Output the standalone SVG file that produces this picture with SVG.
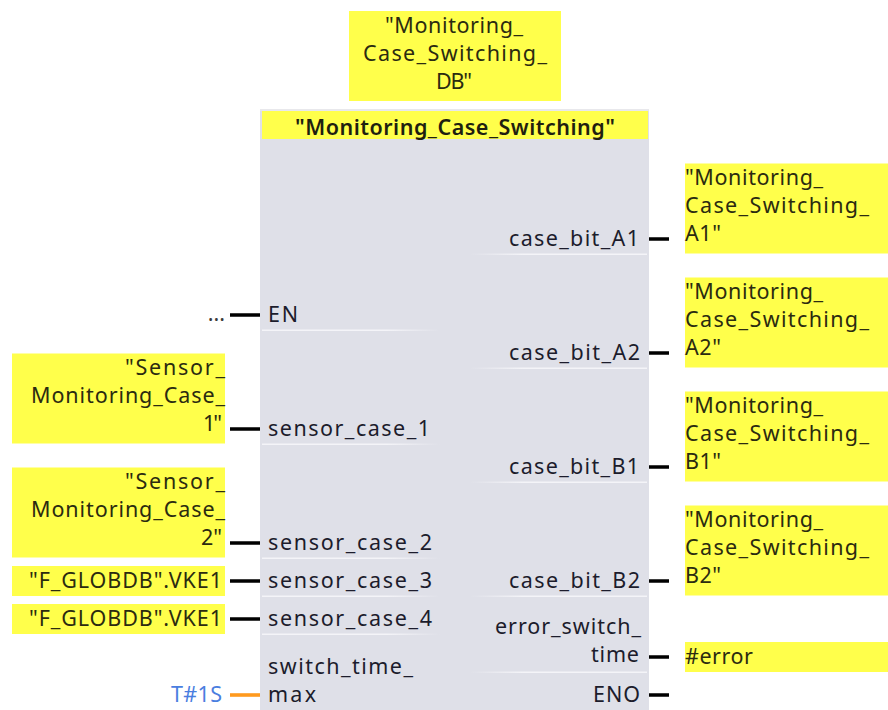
<svg xmlns="http://www.w3.org/2000/svg" width="888" height="710" viewBox="0 0 888 710">
<style>
text{font-family:"Noto Sans","DejaVu Sans",sans-serif;font-size:21.5px;fill:#1c1c2c}
.y{fill:#ffff4b}
.o{fill:#2b2b10}
.r{text-anchor:end}
.w{stroke:#000;stroke-width:3.6;fill:none}
</style>
<defs>
<linearGradient id="fl" x1="0" x2="1" y1="0" y2="0"><stop offset="0" stop-color="#f4f4f8"/><stop offset="0.7" stop-color="#f4f4f8"/><stop offset="1" stop-color="#dfe0e8"/></linearGradient>
<linearGradient id="fr" x1="0" x2="1" y1="0" y2="0"><stop offset="0" stop-color="#dfe0e8"/><stop offset="0.3" stop-color="#f4f4f8"/><stop offset="1" stop-color="#f4f4f8"/></linearGradient>
</defs>
<rect width="888" height="710" fill="#fff"/>
<g id="instance-db"><rect class="y" x="349" y="11" width="212" height="90"/>
<text class="o" x="385" y="33" textLength="138">"Monitoring_</text><text class="o" x="363" y="61" textLength="184">Case_Switching_</text><text class="o" x="436" y="89" textLength="36">DB"</text></g>
<g id="block"><rect x="260" y="109" width="389" height="601" fill="#dfe0e8"/><rect x="260" y="109" width="389" height="2" fill="#e8e8ec"/>
<rect class="y" x="262" y="111" width="386" height="28"/>
<text x="295" y="135" textLength="320" style="font-weight:600;fill:#1f1f10">"Monitoring_Case_Switching"</text>
<g id="separators">
<rect x="262" y="329.500" width="178" height="1.500" fill="url(#fl)"/>
<rect x="262" y="443.500" width="178" height="1.500" fill="url(#fl)"/>
<rect x="262" y="557.500" width="178" height="1.500" fill="url(#fl)"/>
<rect x="262" y="595.500" width="178" height="1.500" fill="url(#fl)"/>
<rect x="262" y="633.500" width="178" height="1.500" fill="url(#fl)"/>
<rect x="470" y="253.500" width="177" height="1.500" fill="url(#fr)"/>
<rect x="470" y="367.500" width="177" height="1.500" fill="url(#fr)"/>
<rect x="470" y="481.500" width="177" height="1.500" fill="url(#fr)"/>
<rect x="470" y="595.500" width="177" height="1.500" fill="url(#fr)"/>
<rect x="470" y="671.500" width="177" height="1.500" fill="url(#fr)"/>
</g>
<text x="268" y="322" textLength="30">EN</text>
<text x="268" y="436" textLength="162">sensor_case_1</text>
<text x="268" y="550" textLength="164">sensor_case_2</text>
<text x="268" y="588" textLength="164">sensor_case_3</text>
<text x="268" y="626" textLength="164">sensor_case_4</text>
<text x="268" y="674" textLength="145">switch_time_</text>
<text x="268" y="702" textLength="48">max</text>
<text x="509" y="246" textLength="130">case_bit_A1</text>
<text x="509" y="360" textLength="131">case_bit_A2</text>
<text x="509" y="474" textLength="130">case_bit_B1</text>
<text x="509" y="588" textLength="131">case_bit_B2</text>
<text x="495" y="634" textLength="146">error_switch_</text>
<text x="591" y="662" textLength="48">time</text>
<text x="593" y="702" textLength="47">ENO</text></g>
<g id="connectors">
<path class="w" d="M230 315H260M230 429H260M230 543H260M230 581H260M230 619H260M649 239H669M649 353H669M649 467H669M649 581H669M649 657H669M649 695H669"/>
<path d="M230 695H260" stroke="#ff9a1f" stroke-width="3.600" fill="none"/>
</g>
<g id="in-en"><text class="r" x="225" y="321" style="fill:#3a3a3a">...</text></g>
<g id="in-1"><rect class="y" x="12" y="353.500" width="213" height="90"/>
<text class="o" x="125" y="375" textLength="100">"Sensor_</text><text class="o" x="31" y="403" textLength="194">Monitoring_Case_</text><text class="o" x="203" y="431" textLength="19">1"</text></g>
<g id="in-2"><rect class="y" x="12" y="467.500" width="213" height="90"/>
<text class="o" x="125" y="489" textLength="100">"Sensor_</text><text class="o" x="31" y="517" textLength="194">Monitoring_Case_</text><text class="o" x="201" y="545" textLength="21">2"</text></g>
<g id="in-3"><rect class="y" x="12" y="566" width="213" height="30"/><text class="o" x="29" y="588" textLength="193">"F_GLOBDB".VKE1</text></g>
<g id="in-4"><rect class="y" x="12" y="604" width="213" height="30"/><text class="o" x="29" y="626" textLength="193">"F_GLOBDB".VKE1</text></g>
<g id="in-time"><text x="171" y="702" textLength="51" style="fill:#4a7ee0">T#1S</text></g>
<g id="out-a1"><rect class="y" x="685" y="163.500" width="203" height="90"/>
<text class="o" x="685" y="185" textLength="138">"Monitoring_</text><text class="o" x="685" y="213" textLength="184">Case_Switching_</text><text class="o" x="685" y="241" textLength="36">A1"</text></g>
<g id="out-a2"><rect class="y" x="685" y="277.500" width="203" height="90"/>
<text class="o" x="685" y="299" textLength="138">"Monitoring_</text><text class="o" x="685" y="327" textLength="184">Case_Switching_</text><text class="o" x="685" y="355" textLength="36">A2"</text></g>
<g id="out-b1"><rect class="y" x="685" y="391.500" width="203" height="90"/>
<text class="o" x="685" y="413" textLength="138">"Monitoring_</text><text class="o" x="685" y="441" textLength="184">Case_Switching_</text><text class="o" x="685" y="469" textLength="36">B1"</text></g>
<g id="out-b2"><rect class="y" x="685" y="505.500" width="203" height="90"/>
<text class="o" x="685" y="527" textLength="138">"Monitoring_</text><text class="o" x="685" y="555" textLength="184">Case_Switching_</text><text class="o" x="685" y="583" textLength="36">B2"</text></g>
<g id="out-error"><rect class="y" x="685" y="642" width="203" height="30"/><text class="o" x="685" y="664" textLength="68">#error</text></g>
</svg>
